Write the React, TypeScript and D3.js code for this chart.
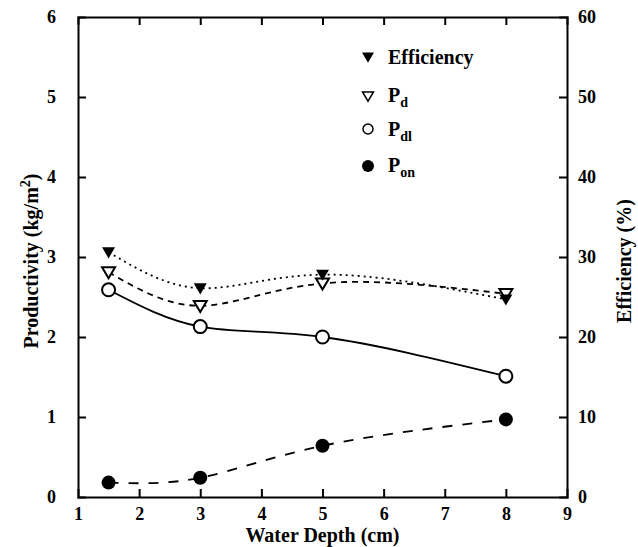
import React, { useRef, useEffect } from 'react';
import * as d3 from 'd3';

// water depth (cm)
const depths = [1.5, 3, 5, 8];
// productivity, kg/m2
const pd = [2.81, 2.39, 2.67, 2.54];
const pdl = [2.59, 2.13, 2.0, 1.51];
const pon = [0.18, 0.24, 0.64, 0.97];
// efficiency, %
const efficiency = [30.6, 26.1, 27.8, 24.7];

const xTicks = [1, 2, 3, 4, 5, 6, 7, 8, 9];
const leftTicks = [0, 1, 2, 3, 4, 5, 6];
const rightTicks = [0, 10, 20, 30, 40, 50, 60];

const FONT = "'Liberation Serif', 'Times New Roman', Times, serif";

const App = () => {
  const svgRef = useRef<SVGSVGElement>(null);

  useEffect(() => {
    const width = 638;
    const height = 547;
    const m = { left: 78, right: 71, top: 17, bottom: 50 };

    const svg = d3.select(svgRef.current)
      .attr('width', width)
      .attr('height', height);
    svg.selectAll('*').remove();

    const x = d3.scaleLinear().domain([1, 9]).range([m.left, width - m.right]);
    const y = d3.scaleLinear().domain([0, 6]).range([height - m.bottom, m.top]);
    const yR = d3.scaleLinear().domain([0, 60]).range([height - m.bottom, m.top]);

    const tickLen = 8;

    // axes, ticks pointing inward
    const bottom = svg.append('g').attr('transform', `translate(0,${y(0)})`)
      .call(d3.axisBottom(x).tickValues(xTicks).tickSize(-tickLen).tickPadding(10).tickFormat(d3.format('d')));
    const top = svg.append('g').attr('transform', `translate(0,${y(6)})`)
      .call(d3.axisTop(x).tickValues(xTicks.slice(1, -1)).tickSize(-tickLen).tickFormat(() => ''));
    const left = svg.append('g').attr('transform', `translate(${x(1)},0)`)
      .call(d3.axisLeft(y).tickValues(leftTicks).tickSize(-tickLen).tickPadding(22).tickFormat(d3.format('d')));
    const right = svg.append('g').attr('transform', `translate(${x(9)},0)`)
      .call(d3.axisRight(yR).tickValues(rightTicks).tickSize(-tickLen).tickPadding(11).tickFormat(d3.format('d')));

    [bottom, top, left, right].forEach(g => {
      g.attr('font-size', 18);
      g.select('.domain').attr('stroke', '#000').attr('stroke-width', 2);
      g.selectAll('.tick line').attr('stroke', '#000').attr('stroke-width', 2);
      g.selectAll('.tick text').attr('fill', '#000');
    });
    // edge ticks overlap the frame
    bottom.selectAll('.tick').filter((d: any) => d === 1 || d === 9).select('line').remove();
    left.selectAll('.tick').filter((d: any) => d === 0 || d === 6).select('line').remove();
    right.selectAll('.tick').filter((d: any) => d === 0 || d === 60).select('line').remove();

    // axis titles
    const lt = svg.append('text')
      .attr('transform', `translate(38,${(y(0) + y(6)) / 2 + 4}) rotate(-90)`)
      .attr('text-anchor', 'middle')
      .attr('font-size', 20);
    lt.append('tspan').text('Productivity (kg/m');
    lt.append('tspan').attr('dy', -8).attr('font-size', 14).text('2');
    lt.append('tspan').attr('dy', 8).text(')');

    svg.append('text')
      .attr('transform', `translate(631,${(y(0) + y(6)) / 2 + 4}) rotate(-90)`)
      .attr('text-anchor', 'middle')
      .attr('font-size', 20)
      .text('Efficiency (%)');

    svg.append('text')
      .attr('x', (x(1) + x(9)) / 2)
      .attr('y', 542)
      .attr('text-anchor', 'middle')
      .attr('font-size', 20)
      .text('Water Depth (cm)');

    // fitted lines
    const plot = svg.append('g');
    const series = [
      { vals: efficiency, scale: yR, dash: '2,4' },
      { vals: pd, scale: y, dash: '6,5' },
      { vals: pdl, scale: y, dash: null },
      { vals: pon, scale: y, dash: '10,10' },
    ];
    series.forEach(s => {
      const line = d3.line<number>()
        .x((d, i) => x(depths[i]))
        .y(d => s.scale(d))
        .curve(d3.curveNatural);
      plot.append('path')
        .datum(s.vals)
        .attr('d', line)
        .attr('fill', 'none')
        .attr('stroke', '#000')
        .attr('stroke-width', 1.8)
        .attr('stroke-dasharray', s.dash);
    });

    const tri = (cx: number, cy: number, r: number) =>
      `M${cx - r},${cy - r * 0.75}L${cx + r},${cy - r * 0.75}L${cx},${cy + r * 0.95}Z`;

    // markers
    depths.forEach((d, i) => {
      plot.append('circle').attr('cx', x(d)).attr('cy', y(pon[i])).attr('r', 7).attr('fill', '#000');
      plot.append('circle').attr('cx', x(d)).attr('cy', y(pdl[i])).attr('r', 6.5)
        .attr('fill', '#fff').attr('stroke', '#000').attr('stroke-width', 2);
      plot.append('path').attr('d', tri(x(d), y(pd[i]), 6.5))
        .attr('fill', '#fff').attr('stroke', '#000').attr('stroke-width', 2);
      plot.append('path').attr('d', tri(x(d), yR(efficiency[i]), 6.5)).attr('fill', '#000');
    });

    // legend
    const lg = svg.append('g');
    const lx = 368;
    const tx = 388;
    lg.append('path').attr('d', tri(lx, 57, 6)).attr('fill', '#000');
    lg.append('text').attr('x', tx).attr('y', 64).attr('font-size', 20).text('Efficiency');

    lg.append('path').attr('d', tri(lx, 96, 5.5)).attr('fill', '#fff').attr('stroke', '#000').attr('stroke-width', 1.5);
    const t2 = lg.append('text').attr('x', tx).attr('y', 102).attr('font-size', 20);
    t2.append('tspan').text('P');
    t2.append('tspan').attr('dy', 5).attr('font-size', 14).text('d');

    lg.append('circle').attr('cx', lx).attr('cy', 129).attr('r', 5).attr('fill', '#fff').attr('stroke', '#000').attr('stroke-width', 1.5);
    const t3 = lg.append('text').attr('x', tx).attr('y', 136).attr('font-size', 20);
    t3.append('tspan').text('P');
    t3.append('tspan').attr('dy', 5).attr('font-size', 14).text('dl');

    lg.append('circle').attr('cx', lx).attr('cy', 166).attr('r', 6).attr('fill', '#000');
    const t4 = lg.append('text').attr('x', tx).attr('y', 172).attr('font-size', 20);
    t4.append('tspan').text('P');
    t4.append('tspan').attr('dy', 5).attr('font-size', 14).text('on');

    // force the serif face on every text, including axis labels
    svg.selectAll('text')
      .style('font-family', FONT)
      .style('font-weight', 'bold');
  }, []);

  return <svg ref={svgRef} style={{ position: 'absolute', left: 0, top: 0, background: '#fff' }}></svg>;
};

export default App;
